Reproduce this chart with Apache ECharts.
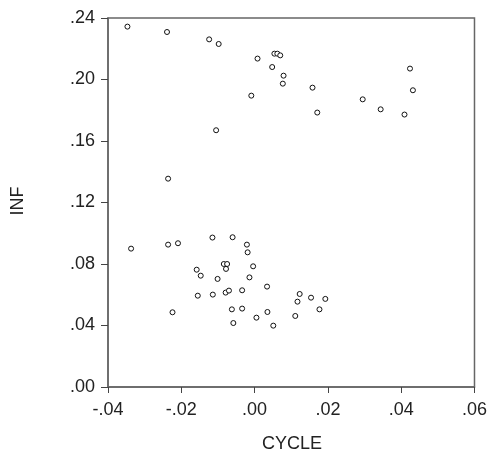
<!DOCTYPE html>
<html><head><meta charset="utf-8">
<script src="https://cdn.jsdelivr.net/npm/echarts@6/dist/echarts.min.js"></script>
<style>html,body{margin:0;padding:0;background:#fff}#c{width:490px;height:456px}</style>
</head><body><div id="c"></div>
<script>
const cycle = [
 -0.0347,-0.0239,-0.0124,-0.0098,0.0008,0.0048,0.0054,0.0062,0.0070,-0.0009,-0.0105,-0.0236,
 0.0079,0.0077,0.0158,0.0171,0.0295,0.0344,0.0409,0.0424,0.0432,
 -0.0337,-0.0236,-0.0209,-0.0224,-0.0115,-0.0060,-0.0021,-0.0019,-0.0158,-0.0147,-0.0084,-0.0075,
 -0.0078,-0.0004,-0.0014,-0.0101,0.0034,-0.0155,-0.0114,-0.0079,-0.0070,-0.0034,-0.0062,-0.0034,
 -0.0058,0.0005,0.0035,0.0051,0.0123,0.0117,0.0154,0.0111,0.0177,0.0193
];
const inf = [
 0.2344,0.2309,0.2261,0.2231,0.2136,0.2081,0.2168,0.2168,0.2157,0.1895,0.1670,0.1355,
 0.2025,0.1973,0.1947,0.1785,0.1871,0.1806,0.1772,0.2071,0.1930,
 0.0900,0.0926,0.0935,0.0486,0.0972,0.0974,0.0926,0.0876,0.0763,0.0724,0.0800,0.0800,
 0.0768,0.0785,0.0713,0.0703,0.0653,0.0594,0.0601,0.0614,0.0627,0.0629,0.0505,0.0510,
 0.0416,0.0451,0.0488,0.0399,0.0605,0.0555,0.0581,0.0462,0.0505,0.0573
];
const xTicks = [-0.04,-0.02,0.00,0.02,0.04,0.06];
const yTicks = [0.00,0.04,0.08,0.12,0.16,0.20,0.24];
const fmt = v => v.toFixed(2).replace(/^(-?)0\./,'$1.');
const chart = echarts.init(document.getElementById('c'));
const font = 'Liberation Sans, Arial, sans-serif';
chart.setOption({
  animation:false,
  grid:{left:108,right:12,top:18,bottom:69,show:true,borderColor:'#666',borderWidth:1.5,backgroundColor:'#fff'},
  xAxis:{type:'value',min:xTicks[0],max:xTicks[xTicks.length-1],interval:0.02,
    axisLine:{show:true,onZero:false,lineStyle:{color:'#666',width:1.5}},
    axisTick:{show:true,inside:false,length:6,lineStyle:{color:'#444'}},
    splitLine:{show:false},
    axisLabel:{formatter:fmt,color:'#222',fontSize:18,fontFamily:font,margin:14}},
  yAxis:{type:'value',min:yTicks[0],max:yTicks[yTicks.length-1],interval:0.04,
    axisLine:{show:true,onZero:false,lineStyle:{color:'#666',width:1.5}},
    axisTick:{show:true,inside:false,length:7,lineStyle:{color:'#444'}},
    splitLine:{show:false},
    axisLabel:{formatter:fmt,color:'#222',fontSize:18,fontFamily:font,margin:13}},
  graphic:[
    {type:'text',x:292,y:444,style:{text:'CYCLE',font:'18px '+font,fill:'#222',textAlign:'center',textVerticalAlign:'middle'}},
    {type:'text',x:18,y:201,rotation:Math.PI/2,style:{text:'INF',font:'18px '+font,fill:'#222',textAlign:'center',textVerticalAlign:'middle'}}
  ],
  series:[{type:'scatter',symbol:'circle',symbolSize:5,
    itemStyle:{color:'#fff',borderColor:'#111',borderWidth:1,opacity:1},
    data:cycle.map((c,i)=>[c,inf[i]])}]
});
</script></body></html>
